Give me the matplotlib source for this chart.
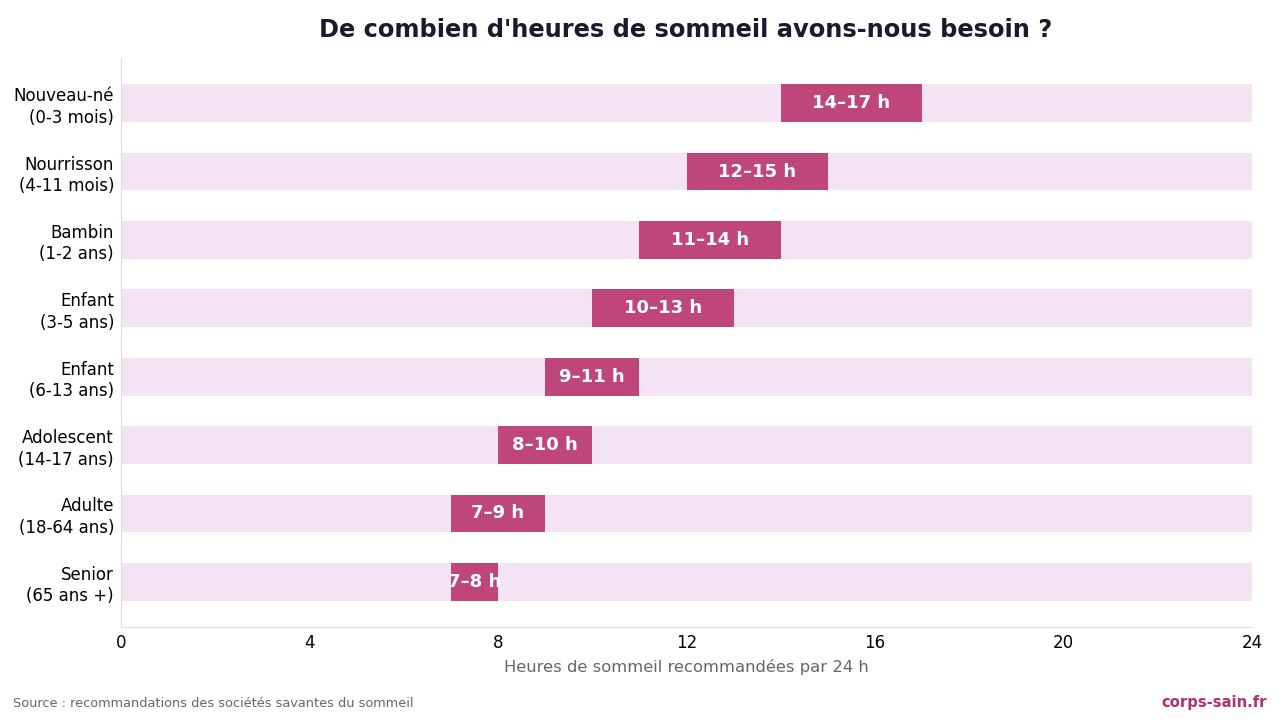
import matplotlib.pyplot as plt

groups = ["Nouveau-né\n(0-3 mois)", "Nourrisson\n(4-11 mois)", "Bambin\n(1-2 ans)",
          "Enfant\n(3-5 ans)", "Enfant\n(6-13 ans)", "Adolescent\n(14-17 ans)",
          "Adulte\n(18-64 ans)", "Senior\n(65 ans +)"]
low = [14, 12, 11, 10, 9, 8, 7, 7]
high = [17, 15, 14, 13, 11, 10, 9, 8]
labels = ["14–17 h", "12–15 h", "11–14 h", "10–13 h", "9–11 h", "8–10 h", "7–9 h", "7–8 h"]
xticks = [0, 4, 8, 12, 16, 20, 24]


def main():
    fig = plt.figure(figsize=(12.8, 7.21), dpi=100)
    ax = fig.add_axes([121 / 1280, 1 - 627 / 721, (1252 - 121) / 1280, (627 - 58) / 721])
    y = list(range(len(groups)))
    ax.barh(y, [24] * len(y), height=0.55, color="#f4e4f3", zorder=1)
    widths = [h - l for l, h in zip(low, high)]
    ax.barh(y, widths, left=low, height=0.55, color="#bf4679", zorder=2)
    for yi, l, h, t in zip(y, low, high, labels):
        ax.text((l + h) / 2, yi, t, ha="center", va="center", color="white",
                fontsize=13, fontweight="bold", zorder=3)
    ax.set_xlim(0, 24)
    ax.set_ylim(len(groups) - 0.34, -0.66)
    ax.set_yticks(y)
    ax.set_yticklabels(groups, fontsize=12, linespacing=1.25)
    ax.set_xticks(xticks)
    ax.set_xticklabels([str(v) for v in xticks], fontsize=12)
    ax.tick_params(axis="y", length=0, pad=5)
    ax.tick_params(axis="x", length=0, pad=5)
    for s in ["top", "right"]:
        ax.spines[s].set_visible(False)
    for s in ["left", "bottom"]:
        ax.spines[s].set_color("#dddddd")
    ax.set_xlabel("Heures de sommeil recommandées par 24 h", fontsize=11.8, color="#666666", labelpad=5)
    fig.suptitle("De combien d'heures de sommeil avons-nous besoin ?", x=0.536, y=0.975,
                 fontsize=17.4, fontweight="bold", color="#1a1a2e")
    fig.text(0.01, 0.019, "Source : recommandations des sociétés savantes du sommeil",
             fontsize=9.3, color="#666666")
    fig.text(0.99, 0.019, "corps-sain.fr", fontsize=10.6, fontweight="bold",
             color="#b03070", ha="right")
    fig.savefig("out.png", dpi=100)


if __name__ == "__main__":
    main()
